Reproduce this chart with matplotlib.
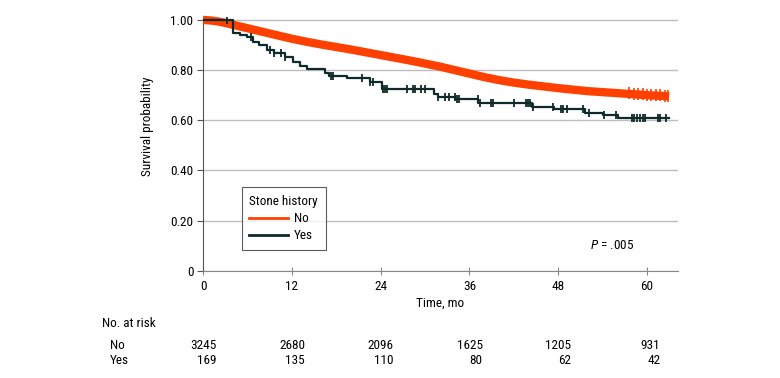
import numpy as np
import matplotlib
matplotlib.use("Agg")
import matplotlib.pyplot as plt
from matplotlib.lines import Line2D
from matplotlib.transforms import blended_transform_factory

plt.rcParams['font.family'] = ['Roboto Condensed', 'Liberation Sans Narrow', 'Roboto', 'DejaVu Sans']
plt.rcParams['font.size'] = 9.5
plt.rcParams['mathtext.fontset'] = 'custom'
plt.rcParams['mathtext.it'] = 'Roboto Condensed:italic'
plt.rcParams['mathtext.rm'] = 'Roboto Condensed'

# Stone history = No (orange)
no_t = [0, 1, 2, 3, 4, 5, 6, 7, 8, 9, 10, 11, 12, 14, 16, 18, 20, 22, 24, 26, 28,
        30, 32, 34, 36, 38, 40, 42, 44, 46, 48, 50, 52, 54, 56, 58, 60, 62, 63]
no_s = [1.0, 0.998, 0.994, 0.988, 0.981, 0.974, 0.967, 0.96, 0.953, 0.946, 0.939, 0.932,
        0.925, 0.913, 0.902, 0.892, 0.882, 0.871, 0.86, 0.849, 0.838, 0.826, 0.814,
        0.8, 0.786, 0.772, 0.76, 0.75, 0.742, 0.735, 0.728, 0.722, 0.716, 0.712,
        0.708, 0.704, 0.700, 0.697, 0.695]
no_censor = [57.6, 58.2, 58.8, 59.4, 60.0, 60.6, 61.2, 61.8, 62.4, 62.9]

# Stone history = Yes (dark)
yes_t = [0, 4.0, 5.0, 5.9, 6.7, 7.6, 8.7, 9.6, 11.1, 12.2, 13.1, 14.0, 16.5, 17.0,
         19.4, 22.6, 24.2, 31.2, 31.8, 34.1, 37.2, 44.4, 47.4, 51.6, 54.1, 56.1, 63.0]
yes_s = [1.0, 0.947, 0.94, 0.93, 0.913, 0.9, 0.88, 0.867, 0.853, 0.833, 0.817, 0.804,
         0.79, 0.776, 0.767, 0.753, 0.723, 0.703, 0.693, 0.683, 0.668, 0.653, 0.643,
         0.63, 0.62, 0.607, 0.607]
yes_censor = [3.3, 6.5, 9.1, 9.6, 10.5, 11.1, 17.3, 17.6, 21.5, 22.6, 23.0, 24.3, 24.6,
              24.9, 27.6, 28.4, 28.7, 29.5, 30.0, 31.8, 32.7, 33.2, 34.0, 34.3, 34.6,
              37.1, 37.4, 38.9, 39.2, 42.0, 43.6, 43.9, 44.2, 44.6, 47.3, 48.4, 48.7,
              49.2, 51.3, 52.2, 54.2, 55.8, 58.0, 58.3, 58.7, 59.1, 59.4, 59.8, 61.5,
              61.8, 62.6]

risk_times = [0, 12, 24, 36, 48, 60]
risk_no = [3245, 2680, 2096, 1625, 1205, 931]
risk_yes = [169, 135, 110, 80, 62, 42]

c_no = '#ff4000'
c_yes = '#0f2b29'


def step_at(times, vals, x):
    idx = np.searchsorted(times, x, side='right') - 1
    return np.array(vals)[idx]


fig = plt.figure(figsize=(7.8, 3.78), dpi=100)
ax = fig.add_axes([0.2603, 0.2839, 0.609, 0.670])

# many tiny steps + dense censor ticks look like one thick smooth band
ax.plot(no_t, no_s, color=c_no, lw=6, solid_capstyle='butt', zorder=3, clip_on=False)
ax.plot(no_censor, step_at(no_t, no_s, no_censor), ls='none', marker='|',
        ms=9, mew=1.2, color=c_no, zorder=3)

ax.step(yes_t, yes_s, where='post', color=c_yes, lw=1.6, zorder=4)
ax.plot(yes_censor, step_at(yes_t, yes_s, yes_censor), ls='none', marker='|',
        ms=6, mew=1.3, color=c_yes, zorder=4)

ax.set_xlim(0, 64.2)
ax.set_ylim(0, 1.01)
ax.set_xticks(risk_times)
ax.set_yticks([0, 0.2, 0.4, 0.6, 0.8, 1.0])
ax.set_yticklabels(['0', '0.20', '0.40', '0.60', '0.80', '1.00'])
ax.grid(axis='y', color='#bdbdbd', lw=1.0)
ax.set_axisbelow(True)
for s in ['top', 'right']:
    ax.spines[s].set_visible(False)
ax.spines['left'].set_color('#555555')
ax.spines['bottom'].set_color('#888888')
ax.tick_params(axis='x', direction='inout', length=6, color='#888888', pad=4)
ax.tick_params(axis='y', direction='out', length=4, color='#555555', pad=3)

ax.set_ylabel('Survival probability')
ax.yaxis.set_label_coords(-0.103, 0.57)

handles = [Line2D([], [], color=c_no, lw=2), Line2D([], [], color=c_yes, lw=2)]
leg = ax.legend(handles, ['No', 'Yes'], title='Stone history', loc='lower left',
                bbox_to_anchor=(0.081, 0.081), borderaxespad=0, frameon=True,
                fancybox=False, edgecolor='#333333', handlelength=2.95,
                handletextpad=0.4, labelspacing=0.3, borderpad=0.6)
leg.get_frame().set_linewidth(0.8)
leg._legend_box.align = 'left'

ax.text(52.3, 0.099, r'$P$ = .005', ha='left', va='center')

tr = blended_transform_factory(ax.transAxes, fig.transFigure)
fig.text(0.5, 0.198, 'Time, mo', ha='center', va='center', transform=tr)

tr2 = blended_transform_factory(ax.transData, fig.transFigure)
fig.text(0.131, 0.143, 'No. at risk', ha='left', va='center')
fig.text(0.141, 0.0873, 'No', ha='left', va='center')
fig.text(0.141, 0.0476, 'Yes', ha='left', va='center')
for t, n, y in zip(risk_times, risk_no, risk_yes):
    fig.text(t + 1.8, 0.0873, str(n), ha='right', va='center', transform=tr2)
    fig.text(t + 1.8, 0.0476, str(y), ha='right', va='center', transform=tr2)

fig.savefig('out.png', dpi=100)
